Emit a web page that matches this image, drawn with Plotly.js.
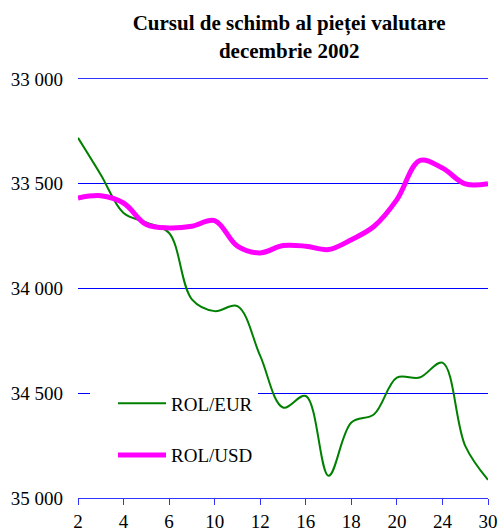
<!DOCTYPE html>
<html>
<head>
<meta charset="utf-8">
<script src="https://cdn.plot.ly/plotly-3.0.1.min.js"></script>
<style>html,body{margin:0;padding:0;background:#fff;}#chart{width:499px;height:531px;}</style>
</head>
<body>
<div id="chart"></div>
<script>
// Trading days, December 2002
var days = ['2','3','4','5','6','9','10','11','12','13','16','17','18','19','20','23','24','27','30'];
var rolEur = [33281,33457,33640,33685,33735,34052,34108,34084,34322,34568,34513,34894,34640,34600,34425,34425,34354,34751,34913];
var rolUsd = [33568,33557,33592,33695,33711,33703,33676,33798,33830,33795,33798,33814,33767,33703,33576,33389,33425,33501,33500];
var xTickVals = ['2','4','6','10','12','16','18','20','24','30'];
var yTickVals = [33000,33500,34000,34500,35000];
var yTickText = ['33 000','33 500','34 000','34 500','35 000'];

var serif = 'Liberation Serif, Times New Roman, serif';

var traces = [
  {x: days, y: rolEur, type: 'scatter', mode: 'lines', name: 'ROL/EUR', legendgroup: 'a',
   line: {color: '#008000', width: 2, shape: 'spline', smoothing: 1}},
  {x: days, y: rolUsd, type: 'scatter', mode: 'lines', name: 'ROL/USD', legendgroup: 'b',
   line: {color: '#ff00ff', width: 5, shape: 'spline', smoothing: 1}}
];

var layout = {
  width: 499, height: 531,
  margin: {l: 78, r: 11, t: 79, b: 33, pad: 0},
  paper_bgcolor: '#ffffff', plot_bgcolor: '#ffffff',
  font: {family: serif, size: 19, color: '#000000'},
  title: {text: '<b>Cursul de schimb al pieței valutare<br>decembrie 2002</b>',
          font: {family: serif, size: 21, color: '#000000'},
          x: 0.515, xref: 'paper', xanchor: 'center', y: 0.943, yref: 'container', yanchor: 'top'},
  showlegend: true,
  legend: {x: 0.0293, xanchor: 'left', y: 0.271, yanchor: 'top', bgcolor: '#ffffff', borderwidth: 0,
           indentation: 23,
           traceorder: 'grouped', tracegroupgap: 24, itemwidth: 48,
           font: {family: serif, size: 19, color: '#000000'}},
  xaxis: {type: 'category', range: [0, 18], tickvals: xTickVals, ticktext: xTickVals,
          showgrid: false, zeroline: false, showline: true, mirror: true, linecolor: '#3333ff', linewidth: 1,
          ticks: 'outside', ticklen: 6, tickcolor: '#3333ff', tickwidth: 1,
          tickfont: {family: serif, size: 19, color: '#000000'}, fixedrange: true},
  yaxis: {range: [35000, 33000], tickvals: yTickVals, ticktext: yTickText,
          showgrid: true, gridcolor: 'rgb(0,0,255)', gridwidth: 1, zeroline: false, showline: false,
          ticks: '', ticklabelstandoff: 14,
          tickfont: {family: serif, size: 19, color: '#000000'}, fixedrange: true}
};

Plotly.newPlot('chart', traces, layout, {displayModeBar: false, staticPlot: true});
</script>
</body>
</html>
